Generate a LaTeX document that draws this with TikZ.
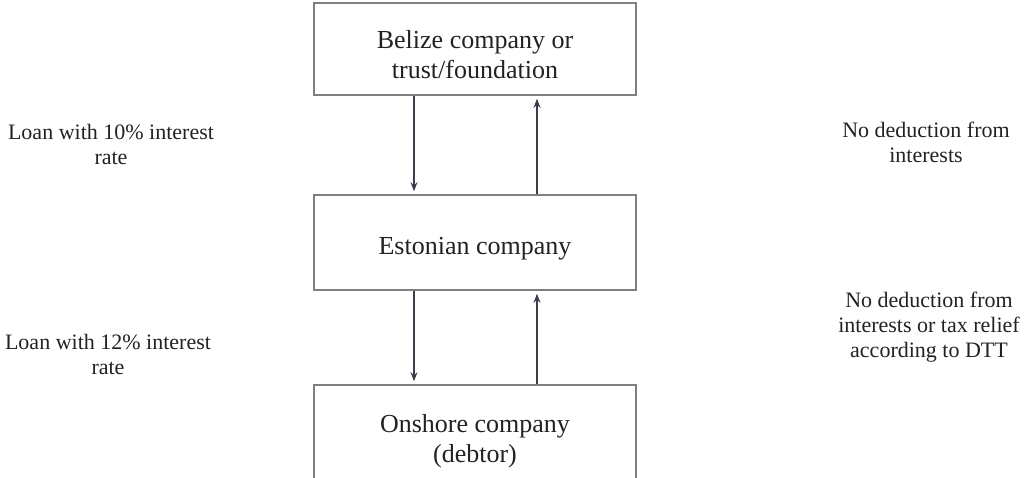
\documentclass[tikz,border=0pt]{standalone}
\usepackage{fontspec}
\setmainfont{Liberation Serif}
\usetikzlibrary{arrows.meta}
\definecolor{boxline}{HTML}{7F7F7F}
\definecolor{arrowc}{HTML}{3B3F4C}
\definecolor{txt}{HTML}{222222}
\begin{document}
\begin{tikzpicture}[x=1pt,y=-1pt,
  entity/.style={draw=boxline,line width=1.6pt,minimum width=322pt,inner sep=0pt},
  boxtext/.style={align=center,text=txt,font=\fontsize{26}{30}\selectfont,inner sep=0pt,yshift=-6pt},
  note/.style={align=center,text=txt,font=\fontsize{22}{25}\selectfont,inner sep=0pt},
  flow/.style={draw=arrowc,line width=1.4pt,-{Stealth[length=9pt,width=7pt]}}]
\useasboundingbox (0,0) rectangle (1025,477);
\clip (0,0) rectangle (1025,477);
\node[entity,minimum height=92pt,label={[boxtext]center:Belize company or\\trust/foundation}] (belize) at (475,49) {};
\node[entity,minimum height=95pt,label={[boxtext]center:Estonian company}] (est) at (475,242.5) {};
\node[entity,minimum height=100pt,label={[boxtext]center:Onshore company\\(debtor)}] (onshore) at (475,435) {};
\draw[flow,shorten >=3pt] ([xshift=-61pt]belize.south) -- ([xshift=-61pt]est.north);
\draw[flow,shorten >=3pt] ([xshift=62pt]est.north) -- ([xshift=62pt]belize.south);
\draw[flow,shorten >=3pt] ([xshift=-61pt]est.south) -- ([xshift=-61pt]onshore.north);
\draw[flow,shorten >=3pt] ([xshift=62pt]onshore.north) -- ([xshift=62pt]est.south);
\node[note] (l1) at (111,144) {Loan with 10\% interest\\rate};
\node[note] (l2) at (108,354) {Loan with 12\% interest\\rate};
\node[note] (r1) at (926,142) {No deduction from\\interests};
\node[note] (r2) at (929,327) {No deduction from\\interests or tax relief\\according to DTT};
\end{tikzpicture}
\end{document}
